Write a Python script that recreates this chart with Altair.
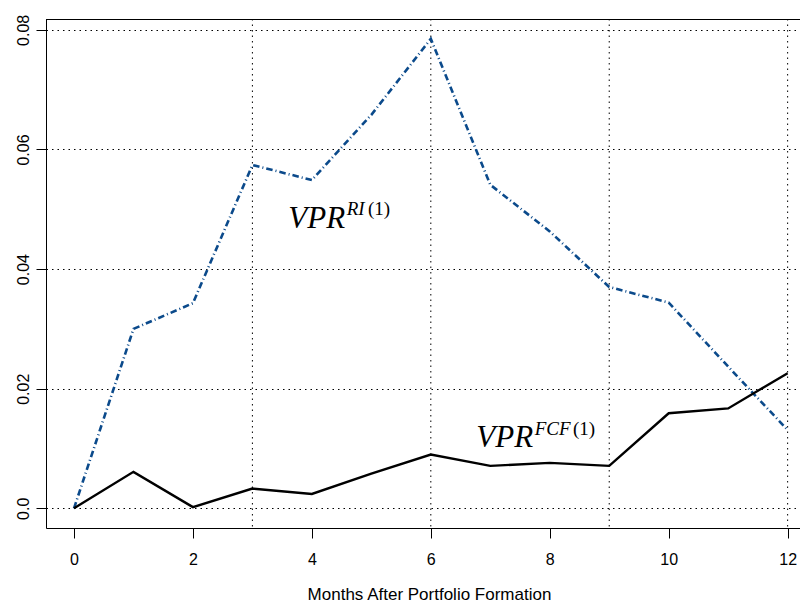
import altair as alt
import pandas as pd

# ---- data ----
months = list(range(13))
vpr_ri = [0.0, 0.0300, 0.0343, 0.0574, 0.0549, 0.0658, 0.0785,
          0.0541, 0.0463, 0.0370, 0.0344, 0.0237, 0.0131]
vpr_fcf = [0.0, 0.0061, 0.0002, 0.0033, 0.0024, 0.0058, 0.0090,
           0.0071, 0.0076, 0.0071, 0.0159, 0.0167, 0.0226]
x_ticks = [0, 2, 4, 6, 8, 10, 12]
y_ticks = [0.0, 0.02, 0.04, 0.06, 0.08]
v_grid = [3, 6, 9, 12]

# annotation labels (main part and superscripts), placed in data units
main_text = ["VPR", "VPR"]
main_x = [3.604, 6.765]
main_y = [0.04692, 0.01030]
sup_it_text = ["RI", "FCF"]
sup_it_x = [4.586, 7.747]
sup_it_y = [0.04905, 0.01226]
sup_rm_text = ["(1)", "(1)"]
sup_rm_x = [4.944, 8.391]
sup_rm_y = [0.04905, 0.01226]

df = pd.DataFrame({"month": months, "ri": vpr_ri, "fcf": vpr_fcf})
grid_df = pd.DataFrame({"v": v_grid})
main_df = pd.DataFrame({"t": main_text, "x": main_x, "y": main_y})
sup_it_df = pd.DataFrame({"t": sup_it_text, "x": sup_it_x, "y": sup_it_y})
sup_rm_df = pd.DataFrame({"t": sup_rm_text, "x": sup_rm_x, "y": sup_rm_y})

W, H = 754, 509
xs = alt.Scale(domain=[-0.4708, 12.208], nice=False, zero=False)
ys = alt.Scale(domain=[-0.00329, 0.08182], nice=False, zero=False)

SANS = "Liberation Sans"
SERIF = "Liberation Serif"

xaxis = alt.Axis(
    values=x_ticks, title="Months After Portfolio Formation", grid=False,
    tickSize=10, labelPadding=13, labelFontSize=16, labelFont=SANS,
    titleFontSize=17, titleFont=SANS, titleFontWeight="normal",
    titleY=71, titleX=383, titleBaseline="alphabetic",
    domainColor="black", tickColor="black", labelColor="black", titleColor="black",
    labelFlush=False, labelOverlap=False, format="d",
)
yaxis = alt.Axis(
    values=y_ticks, title=None,
    labelExpr="datum.value == 0 ? '0.0' : format(datum.value, '.2f')",
    labelAngle=270, labelAlign="center", labelBaseline="bottom",
    tickSize=10, labelPadding=5, labelFontSize=16, labelFont=SANS,
    grid=True, gridDash=[1.5, 4], gridColor="black", gridWidth=1, gridOpacity=1,
    domainColor="black", tickColor="black", labelColor="black",
    labelFlush=False, labelOverlap=False,
)

X = lambda f: alt.X(f, scale=xs, axis=xaxis)
Y = lambda f: alt.Y(f, scale=ys, axis=yaxis)

vrules = alt.Chart(grid_df).mark_rule(
    color="black", strokeWidth=1, strokeDash=[1.5, 4]
).encode(x=X("v:Q"))

top_border = alt.Chart(grid_df).mark_rule(color="black", strokeWidth=1).encode(
    x=alt.value(0), x2=alt.value(W), y=alt.value(0.5)
)

ri_line = alt.Chart(df).mark_line(
    color="#0B4A8B", strokeWidth=2.6, strokeDash=[6.5, 3, 1, 3]
).encode(x=X("month:Q"), y=Y("ri:Q"))
fcf_line = alt.Chart(df).mark_line(color="black", strokeWidth=2.4).encode(
    x=X("month:Q"), y=Y("fcf:Q")
)

main_lbl = alt.Chart(main_df).mark_text(
    font=SERIF, fontStyle="italic", fontSize=31, align="left",
    baseline="alphabetic", color="black"
).encode(x=X("x:Q"), y=Y("y:Q"), text="t:N")
sup_it_lbl = alt.Chart(sup_it_df).mark_text(
    font=SERIF, fontStyle="italic", fontSize=19, align="left",
    baseline="alphabetic", color="black"
).encode(x=X("x:Q"), y=Y("y:Q"), text="t:N")
sup_rm_lbl = alt.Chart(sup_rm_df).mark_text(
    font=SERIF, fontSize=19, align="left", baseline="alphabetic", color="black"
).encode(x=X("x:Q"), y=Y("y:Q"), text="t:N")

chart = alt.layer(
    vrules, top_border, ri_line, fcf_line, main_lbl, sup_it_lbl, sup_rm_lbl
).properties(
    width=W, height=H,
    autosize=alt.AutoSizeParams(type="none"),
    padding={"left": 38, "top": 11, "right": 0, "bottom": 76},
).configure_view(stroke=None).configure(background="white")

chart.save("out.html", embed_options={"renderer": "svg", "actions": False})
